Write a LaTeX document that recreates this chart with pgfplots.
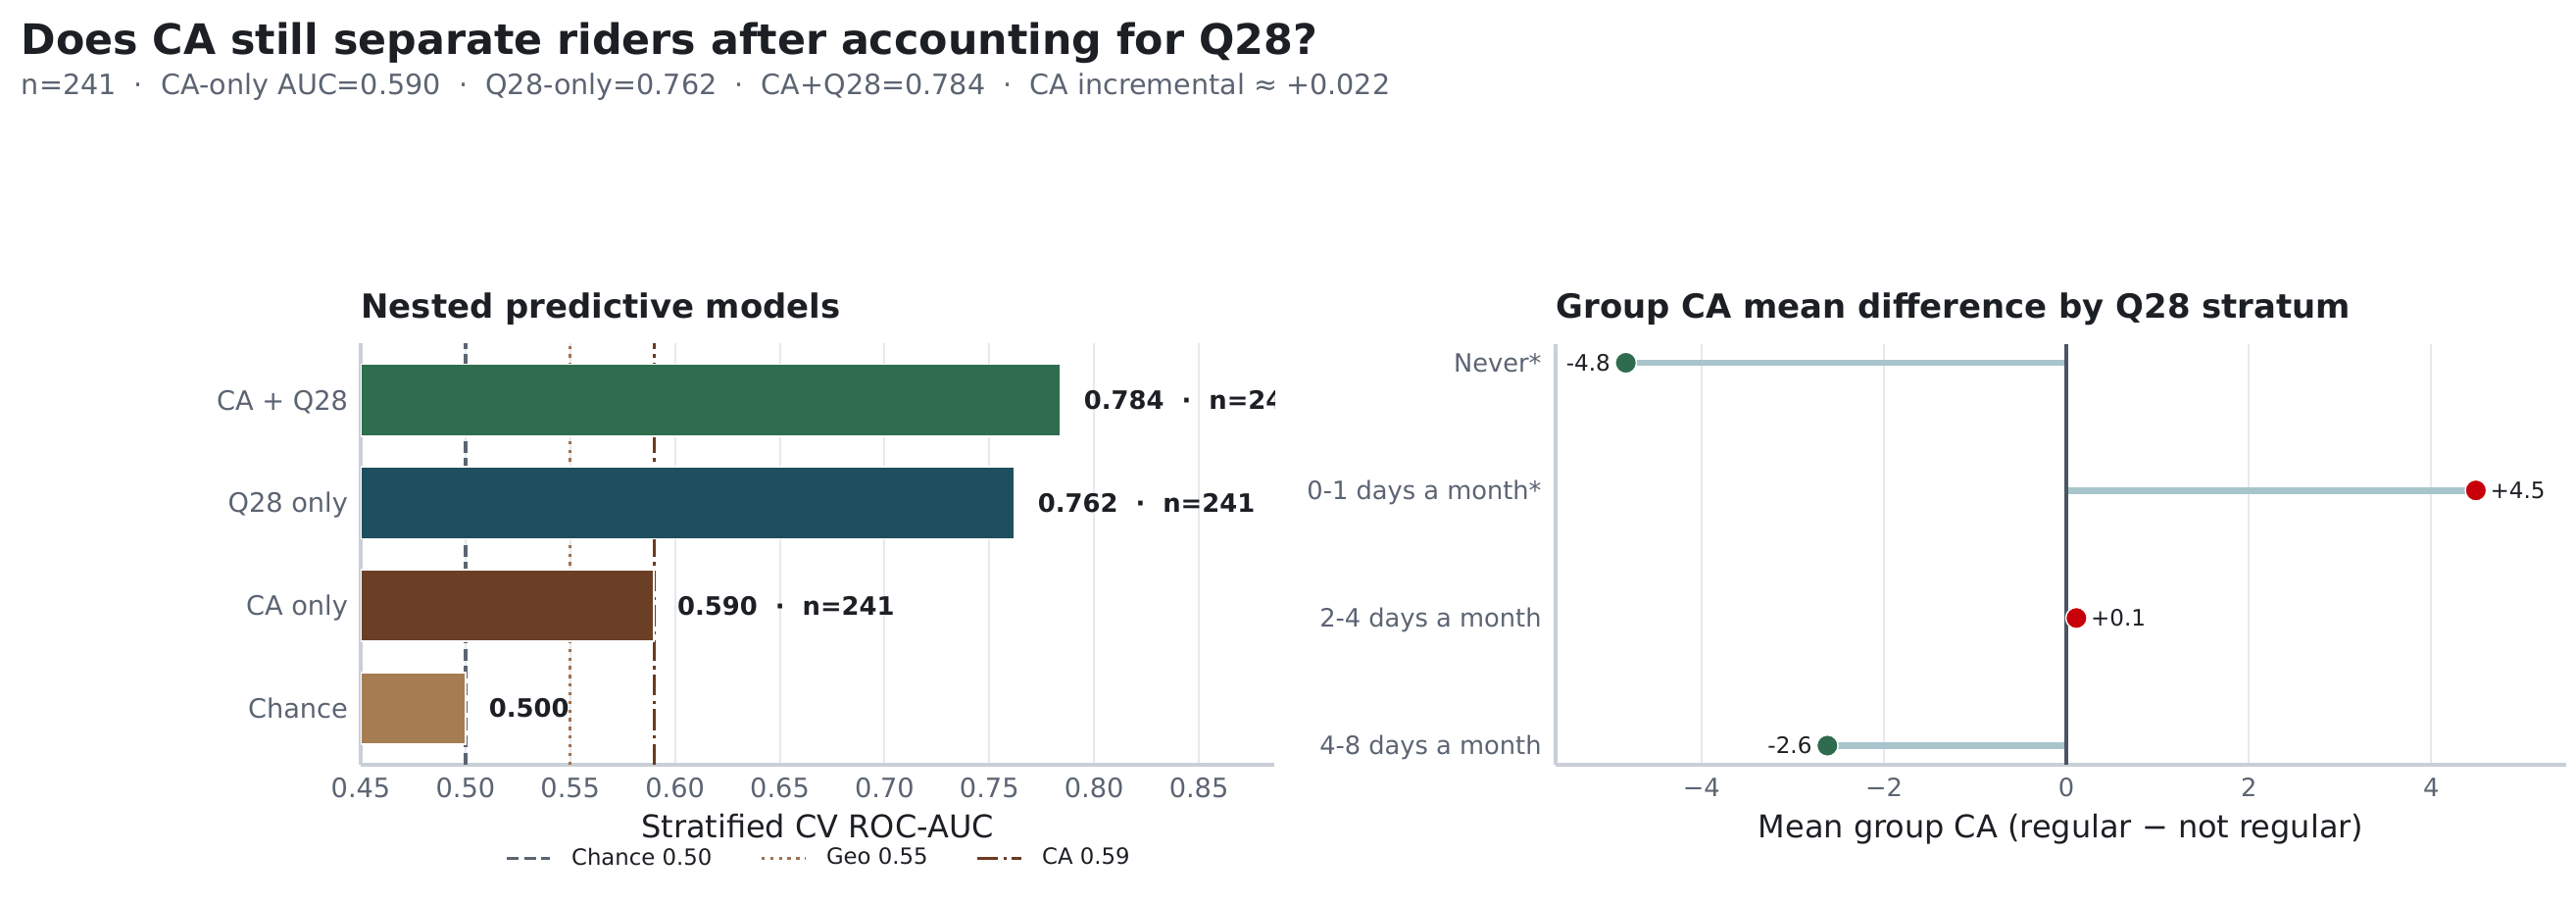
\documentclass[border=0pt]{standalone}
\usepackage{fontspec}
\setmainfont{DejaVu Sans}
\usepackage{pgfplots}
\pgfplotsset{compat=1.18}
\definecolor{ink}{HTML}{1C1F24}
\definecolor{sub}{HTML}{5B6472}
\definecolor{spine}{HTML}{C9CFD6}
\definecolor{gridc}{HTML}{E6E9ED}
\definecolor{cboth}{HTML}{2F6D4F}
\definecolor{cq}{HTML}{1F4E5F}
\definecolor{cca}{HTML}{6B3F26}
\definecolor{cchance}{HTML}{A67C52}
\definecolor{refchance}{HTML}{5B6472}
\definecolor{refgeo}{HTML}{A0714F}
\definecolor{refca}{HTML}{6B3A20}
\definecolor{lolli}{HTML}{A8C5CC}
\definecolor{zero}{HTML}{4B5563}
\definecolor{pos}{HTML}{C8000A}
\definecolor{neg}{HTML}{2E6B4F}
\newcommand\fs[1]{\fontsize{#1pt}{#1pt}\selectfont}
\begin{document}
\begin{tikzpicture}
\path[use as bounding box] (0,0) rectangle (946.08pt,331.92pt);
\node[anchor=base west, inner sep=0pt, text=ink] at (7.6pt,312.1pt) {\fs{15.4}\bfseries Does CA still separate riders after accounting for Q28?};
\node[anchor=base west, inner sep=0pt, text=sub] at (7.7pt,297.1pt) {\fs{10.3}n=241~~·~~CA-only AUC=0.590~~·~~Q28-only=0.762~~·~~CA+Q28=0.784~~·~~CA incremental ≈ +0.022};

\begin{axis}[
  at={(132.48pt,51.12pt)}, anchor=south west,
  width=335.52pt, height=154.62pt, scale only axis,
  xmin=0.45, xmax=0.886, ymin=-0.55, ymax=3.55,
  axis lines*=left, axis line style={draw=spine, line width=1.1pt, -},
  xmajorgrids, major grid style={draw=gridc, line width=0.7pt},
  major tick length=0pt,
  xtick={0.45,0.5,0.55,0.6,0.65,0.7,0.75,0.8,0.85},
  xticklabels={0.45,0.50,0.55,0.60,0.65,0.70,0.75,0.80,0.85},
  ytick={0,1,2,3}, yticklabels={Chance,CA only,Q28 only,CA + Q28},
  xticklabel style={font=\fs{9.8}, text=sub, anchor=north, inner sep=0pt, yshift=-4.5pt},
  yticklabel style={font=\fs{9.8}, text=sub, anchor=base east, inner sep=0pt, xshift=-4.5pt, yshift=-3.57pt},
  xlabel={Stratified CV ROC-AUC},
  xlabel style={at={(axis description cs:0.5,-0.1746)}, anchor=base, font=\fs{11.5}, text=ink, inner sep=0pt},
  legend style={at={(axis description cs:0.5,-0.2226)}, anchor=center, draw=none, fill=none,
    font=\fs{8.2}, text=ink, inner sep=0pt, nodes={inner sep=0pt},
    /tikz/every odd column/.append style={column sep=7.2pt},
    /tikz/every even column/.append style={column sep=17.6pt}},
  legend columns=3,
  legend image code/.code={\draw[#1] (0pt,0pt) -- (16pt,0pt);},
]
\addplot[refchance, line width=1.2pt, dash pattern=on 4.44pt off 1.92pt] coordinates {(0.5,-0.55) (0.5,3.55)};
\addlegendentry{Chance 0.50}
\addplot[refgeo, line width=1.2pt, dash pattern=on 1.2pt off 1.98pt] coordinates {(0.55,-0.55) (0.55,3.55)};
\addlegendentry{Geo 0.55}
\addplot[refca, line width=1.2pt, dash pattern=on 7.68pt off 1.92pt on 1.2pt off 1.92pt] coordinates {(0.59,-0.55) (0.59,3.55)};
\addlegendentry{CA 0.59}
\addplot[xbar, bar width=0.7, bar shift=0pt, fill=cboth, draw=white, line width=0.6pt] coordinates {(0.784,3)};
\addplot[xbar, bar width=0.7, bar shift=0pt, fill=cq, draw=white, line width=0.6pt] coordinates {(0.762,2)};
\addplot[xbar, bar width=0.7, bar shift=0pt, fill=cca, draw=white, line width=0.6pt] coordinates {(0.590,1)};
\addplot[xbar, bar width=0.7, bar shift=0pt, fill=cchance, draw=white, line width=0.6pt] coordinates {(0.500,0)};
\node[anchor=west, inner sep=0pt, xshift=8.4pt, font=\fs{9.3}\bfseries, text=ink] at (axis cs:0.784,3) {0.784~~·~~n=241};
\node[anchor=west, inner sep=0pt, xshift=8.4pt, font=\fs{9.3}\bfseries, text=ink] at (axis cs:0.762,2) {0.762~~·~~n=241};
\node[anchor=west, inner sep=0pt, xshift=8.4pt, font=\fs{9.3}\bfseries, text=ink] at (axis cs:0.590,1) {0.590~~·~~n=241};
\node[anchor=west, inner sep=0pt, xshift=8.4pt, font=\fs{9.3}\bfseries, text=ink] at (axis cs:0.500,0) {0.500};
\end{axis}

\begin{axis}[
  at={(571.32pt,51.12pt)}, anchor=south west,
  width=371.16pt, height=154.62pt, scale only axis,
  xmin=-5.6, xmax=5.48, ymin=-0.15, ymax=3.15,
  axis lines*=left, axis line style={draw=spine, line width=1.1pt, -},
  xmajorgrids, major grid style={draw=gridc, line width=0.7pt},
  major tick length=0pt,
  xtick={-4,-2,0,2,4}, xticklabels={−4,−2,0,2,4},
  ytick={0,1,2,3}, yticklabels={4-8 days a month,2-4 days a month,0-1 days a month*,Never*},
  xticklabel style={font=\fs{9.25}, text=sub, anchor=north, inner sep=0pt, yshift=-4.7pt},
  yticklabel style={font=\fs{9.25}, text=sub, anchor=base east, inner sep=0pt, xshift=-5pt, yshift=-3.37pt},
  xlabel={Mean group CA (regular − not regular)},
  xlabel style={at={(axis description cs:0.5,-0.1746)}, anchor=base, font=\fs{11.5}, text=ink, inner sep=0pt},
]
\addplot[lolli, line width=2.4pt] coordinates {(0,3) (-4.83,3)};
\addplot[lolli, line width=2.4pt] coordinates {(0,2) (4.49,2)};
\addplot[lolli, line width=2.4pt] coordinates {(0,1) (0.11,1)};
\addplot[lolli, line width=2.4pt] coordinates {(0,0) (-2.62,0)};
\addplot[zero, line width=1.2pt] coordinates {(0,-0.15) (0,3.15)};
\addplot[only marks, mark=*, mark size=3.9pt, mark options={fill=neg, draw=white, line width=0.5pt}] coordinates {(-4.83,3) (-2.62,0)};
\addplot[only marks, mark=*, mark size=3.9pt, mark options={fill=pos, draw=white, line width=0.5pt}] coordinates {(4.49,2) (0.11,1)};
\node[anchor=east, inner sep=0pt, xshift=-5.5pt, font=\fs{8.3}, text=ink] at (axis cs:-4.83,3) {-4.8};
\node[anchor=west, inner sep=0pt, xshift=5.1pt, font=\fs{8.3}, text=ink] at (axis cs:4.49,2) {+4.5};
\node[anchor=west, inner sep=0pt, xshift=5.1pt, font=\fs{8.3}, text=ink] at (axis cs:0.11,1) {+0.1};
\node[anchor=east, inner sep=0pt, xshift=-5.5pt, font=\fs{8.3}, text=ink] at (axis cs:-2.62,0) {-2.6};
\end{axis}

\node[anchor=base west, inner sep=0pt, text=ink] at (132.48pt,214.92pt) {\fs{12.2}\bfseries Nested predictive models};
\node[anchor=base west, inner sep=0pt, text=ink] at (571.32pt,214.92pt) {\fs{12.2}\bfseries Group CA mean difference by Q28 stratum};
\end{tikzpicture}
\end{document}
